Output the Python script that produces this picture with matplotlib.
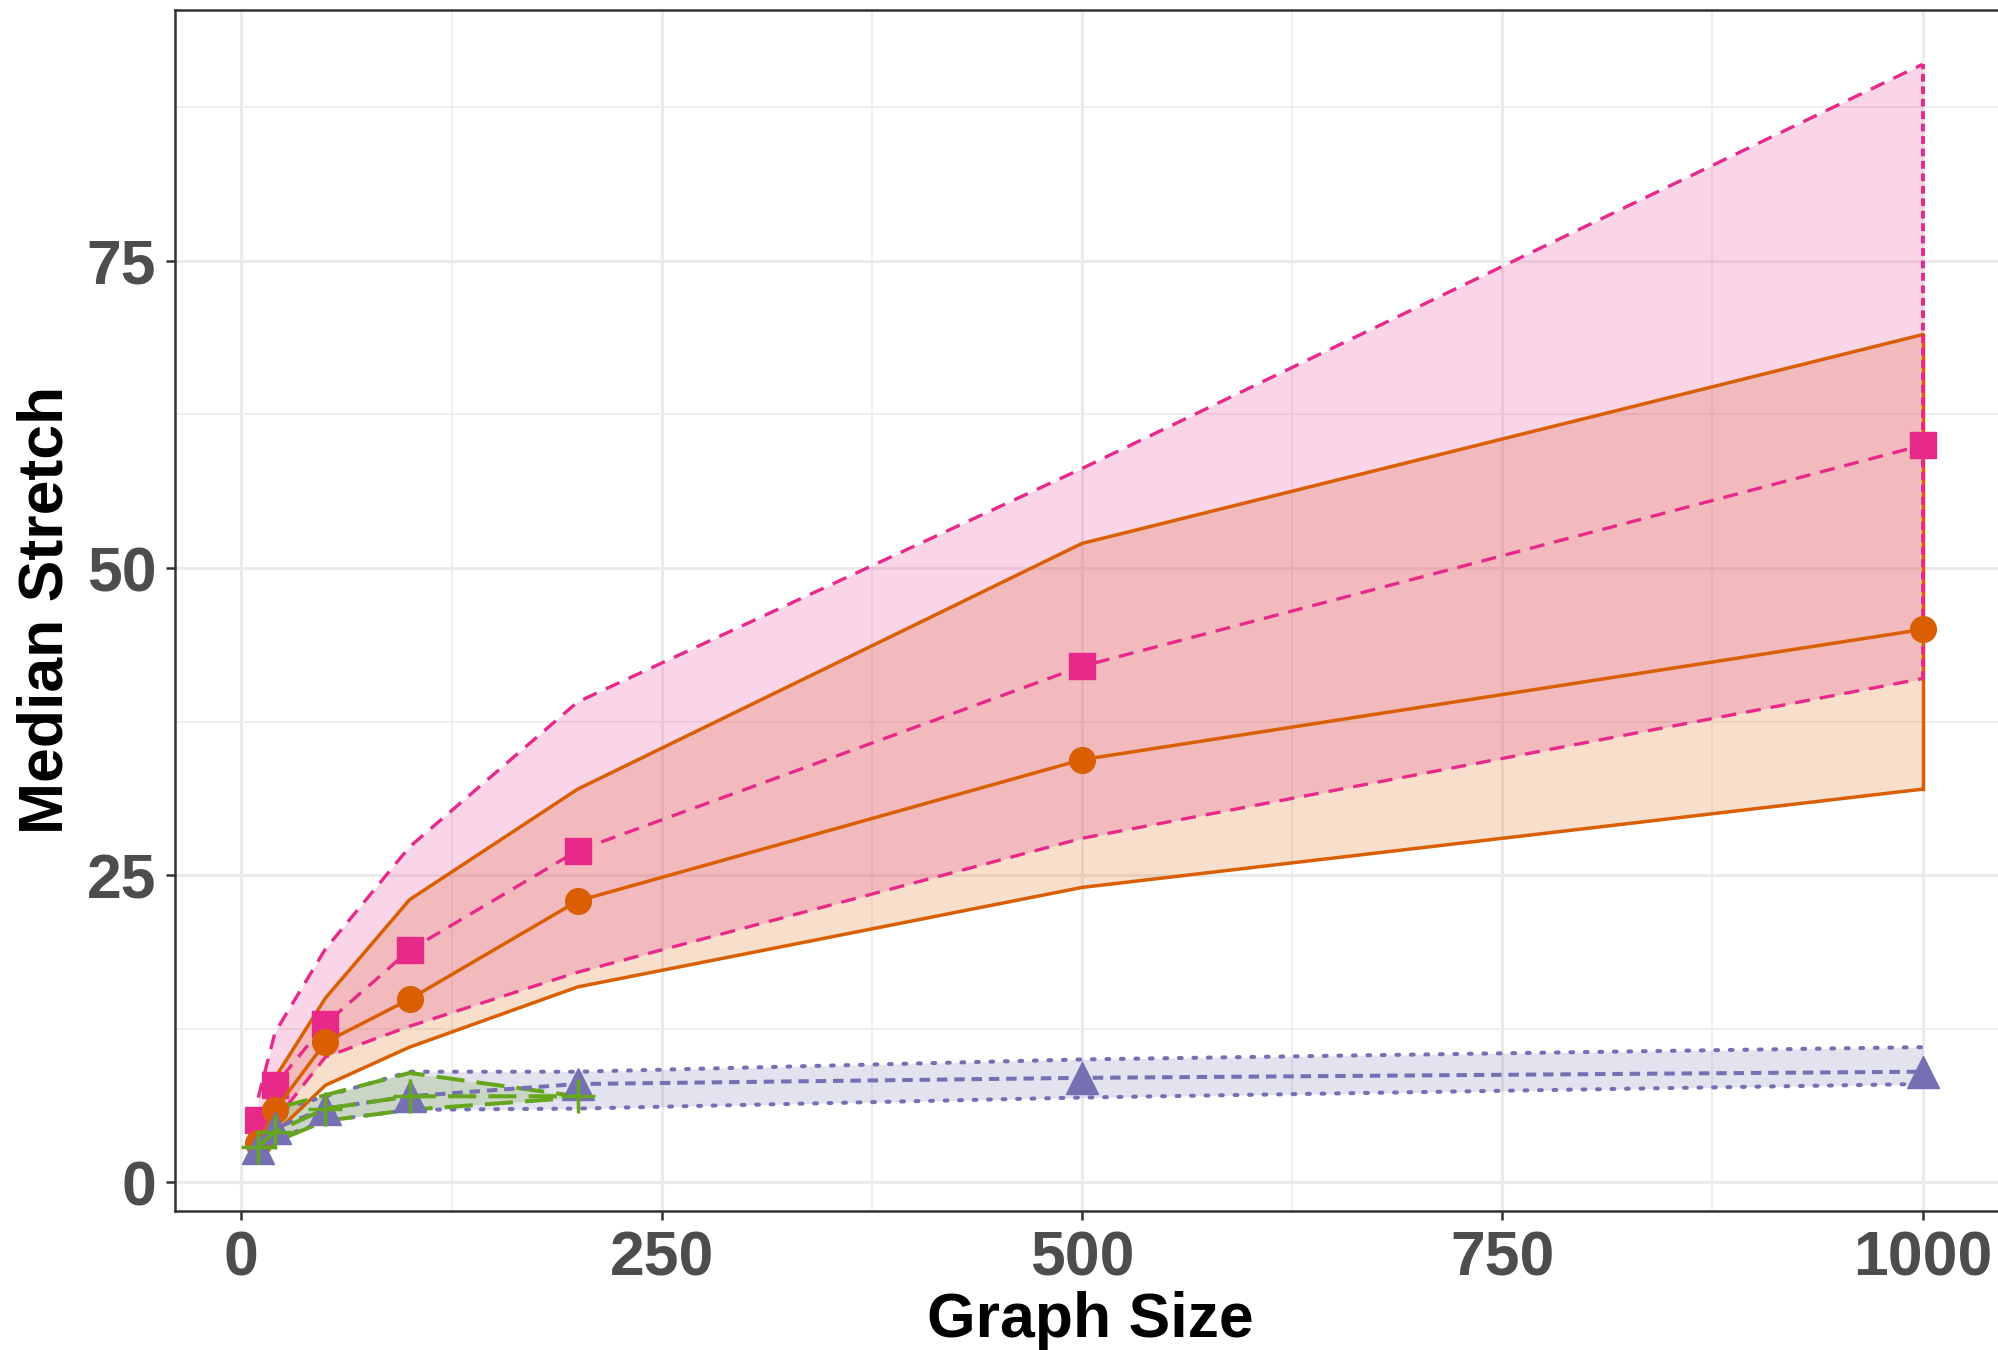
import matplotlib
matplotlib.use("Agg")
import matplotlib.pyplot as plt
from matplotlib.ticker import MultipleLocator

plt.rcParams['font.family'] = ['Liberation Sans', 'DejaVu Sans']

# graph sizes
sizes = [10, 20, 50, 100, 200, 500, 1000]
sizes_small = [10, 20, 50, 100, 200]

# pink series (squares, dashed)
pink_med = [5.1, 7.9, 12.9, 18.9, 27.0, 42.0, 60.0]
pink_hi = [6.9, 12.2, 19.0, 27.3, 39.1, 58.1, 91.0]
pink_lo = [3.0, 5.0, 10.2, 12.7, 17.1, 28.0, 41.0]

# orange series (circles, solid)
orange_med = [3.2, 5.9, 11.4, 14.9, 22.9, 34.4, 45.0]
orange_hi = [4.0, 8.5, 15.0, 23.0, 32.0, 52.0, 69.0]
orange_lo = [2.5, 4.0, 7.9, 11.0, 15.9, 24.0, 32.0]

# purple series (triangles, dotted ribbon)
purple_med = [2.8, 4.4, 6.0, 7.0, 8.0, 8.5, 9.0]
purple_hi = [3.5, 5.8, 7.0, 9.0, 9.0, 10.0, 11.0]
purple_lo = [2.3, 3.5, 5.0, 5.9, 6.0, 6.9, 8.0]

# green series (plus, long dash) - only up to 200
green_med = [2.9, 4.1, 6.0, 7.0, 7.0]
green_hi = [3.5, 6.0, 7.1, 8.9, 7.0]
green_lo = [1.6, 3.3, 5.0, 5.9, 6.9]

PINK = '#E7298A'
ORANGE = '#D95F02'
PURPLE = '#7570B3'
GREEN = '#66A61E'

fig = plt.figure(figsize=(19.98, 13.5), dpi=100)
ax = fig.add_axes([0.0876, 0.1033, 0.9163, 0.8891])

# ribbons
ax.fill_between(sizes, orange_lo, orange_hi, color=ORANGE, alpha=0.2, lw=0, zorder=2)
ax.fill_between(sizes, pink_lo, pink_hi, color=PINK, alpha=0.2, lw=0, zorder=2)
ax.fill_between(sizes, purple_lo, purple_hi, color=PURPLE, alpha=0.2, lw=0, zorder=2)
ax.fill_between(sizes_small, green_lo, green_hi, color=GREEN, alpha=0.2, lw=0, zorder=2)

# ribbon edges
ax.plot(sizes, orange_hi, color=ORANGE, lw=2.5, zorder=3)
ax.plot(sizes, orange_lo, color=ORANGE, lw=2.5, zorder=3)
ax.plot([sizes[-1], sizes[-1]], [orange_lo[-1], orange_hi[-1]], color=ORANGE, lw=2.5, zorder=3)

ax.plot(sizes, pink_hi, color=PINK, lw=2.4, dashes=(4.5, 3), zorder=3)
ax.plot(sizes, pink_lo, color=PINK, lw=2.4, dashes=(4.5, 3), zorder=3)
ax.plot([sizes[-1], sizes[-1]], [pink_lo[-1], pink_hi[-1]], color=PINK, lw=2.8,
        dashes=(2, 1.2), zorder=3.5)

ax.plot(sizes, purple_hi, color=PURPLE, lw=2.9, dashes=(0.7, 2.9),
        dash_capstyle='round', zorder=3)
ax.plot(sizes, purple_lo, color=PURPLE, lw=2.9, dashes=(0.7, 2.9),
        dash_capstyle='round', zorder=3)

ax.plot(sizes_small, green_hi, color=GREEN, lw=2.9, dashes=(7, 3), zorder=3)
ax.plot(sizes_small, green_lo, color=GREEN, lw=2.9, dashes=(7, 3), zorder=3)

# median lines with markers
ax.plot(sizes, pink_med, color=PINK, lw=2.4, dashes=(4.5, 3), marker='s',
        markersize=18.5, zorder=4)
ax.plot(sizes, orange_med, color=ORANGE, lw=2.5, marker='o',
        markersize=18.5, zorder=4)
ax.plot(sizes, purple_med, color=PURPLE, lw=2.9, dashes=(2.6, 1.7), marker='^',
        markersize=23, zorder=4)
ax.plot(sizes_small, green_med, color=GREEN, lw=2.9, dashes=(7, 3), marker='+',
        markersize=25, markeredgewidth=2.5, zorder=5)

# axes styling (theme_bw look)
ax.set_xlim(-39.5, 1049.5)
ax.set_ylim(-2.3, 95.4)
ax.xaxis.set_major_locator(MultipleLocator(250))
ax.xaxis.set_minor_locator(MultipleLocator(125))
ax.yaxis.set_major_locator(MultipleLocator(25))
ax.yaxis.set_minor_locator(MultipleLocator(12.5))
ax.grid(which='major', color='#EBEBEB', lw=2.2, zorder=0)
ax.grid(which='minor', color='#EBEBEB', lw=1.1, zorder=0)
ax.set_axisbelow(True)

for s in ax.spines.values():
    s.set_color('#333333')
    s.set_linewidth(1.8)

ax.tick_params(which='major', length=6.5, width=1.8, color='#333333',
               labelsize=45, labelcolor='#4D4D4D', pad=7)
ax.tick_params(which='minor', length=0)
for lbl in ax.get_xticklabels() + ax.get_yticklabels():
    lbl.set_fontweight('bold')

ax.set_xlabel('Graph Size', fontsize=45, fontweight='bold', color='black', labelpad=2)
ax.set_ylabel('Median Stretch', fontsize=45, fontweight='bold', color='black', labelpad=8)

fig.savefig('out.png', dpi=100)
